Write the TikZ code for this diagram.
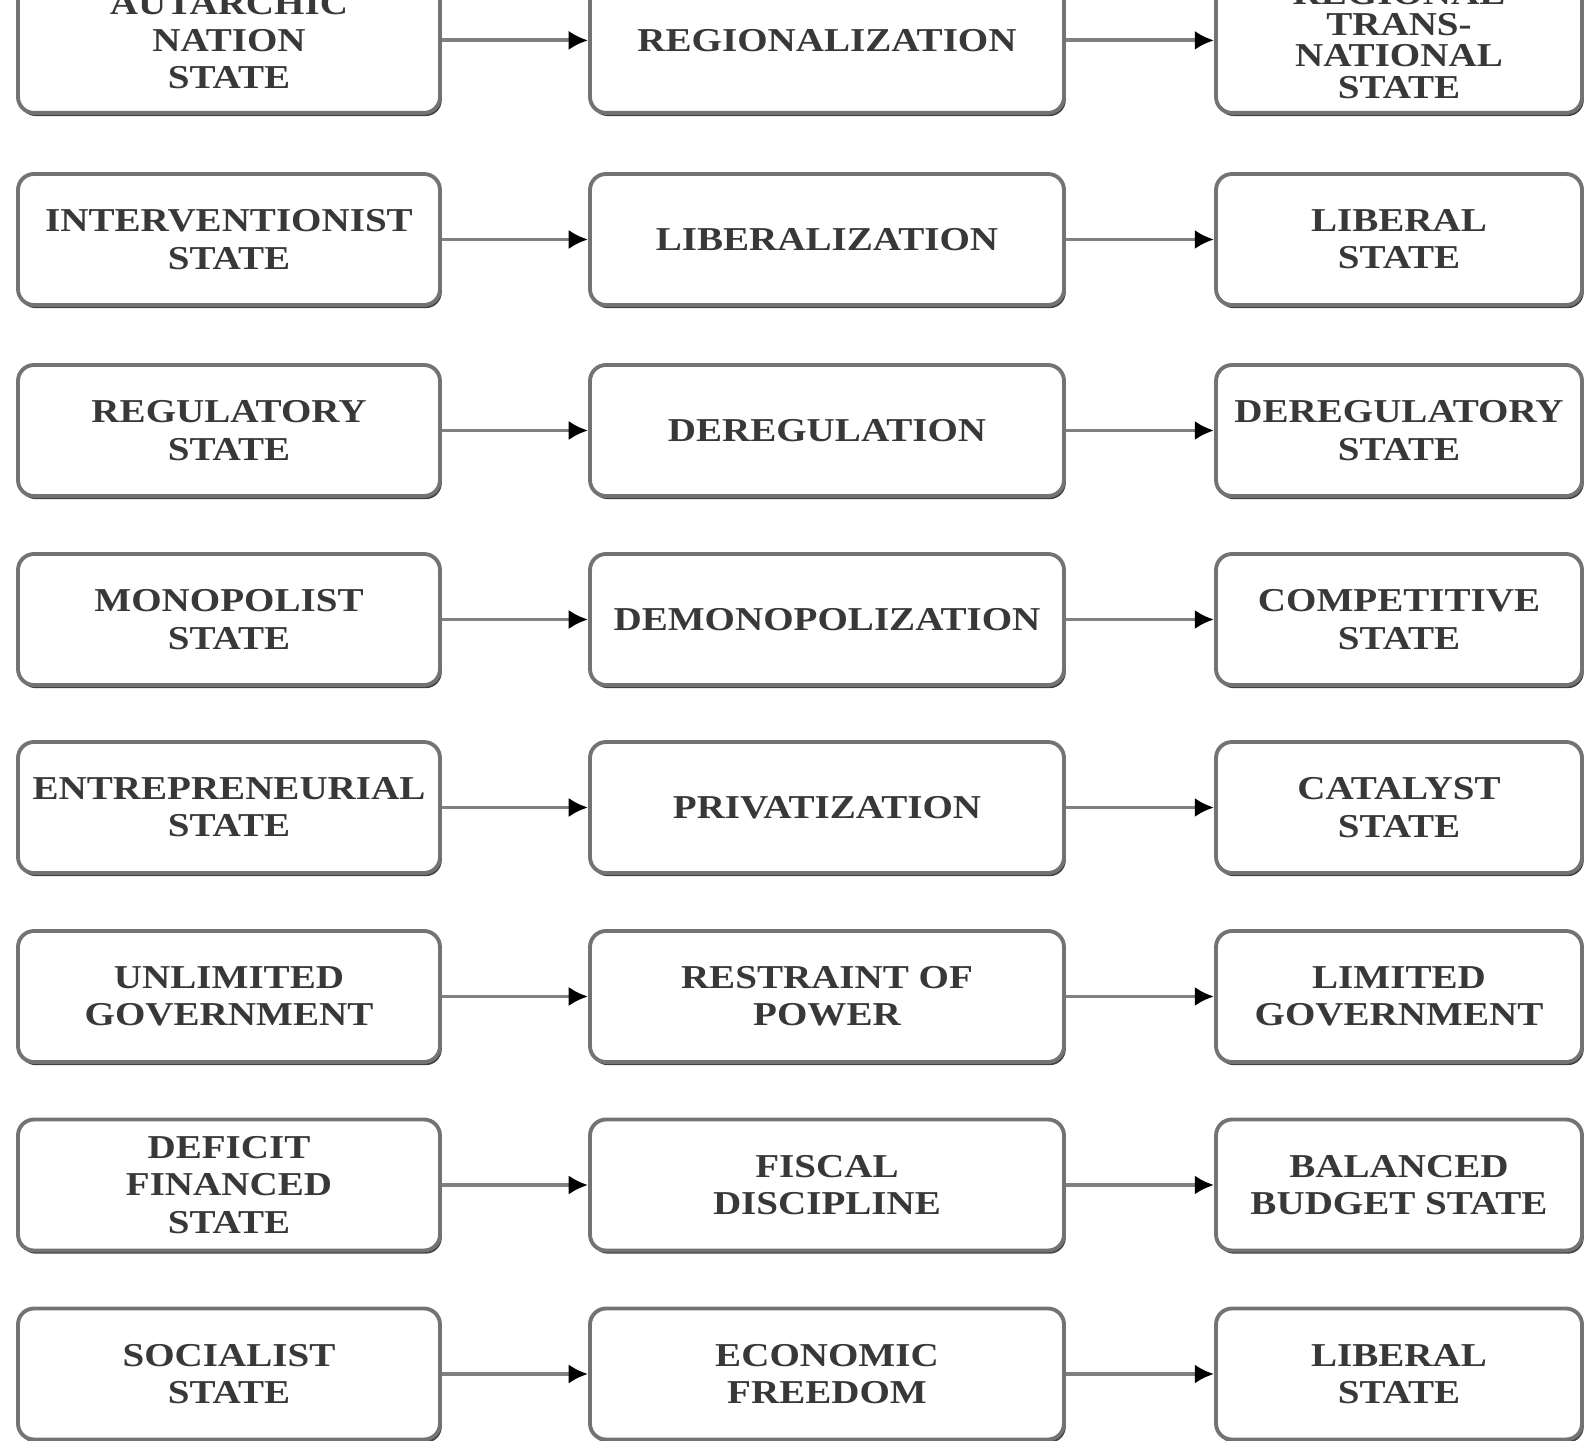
\documentclass[tikz,border=0pt]{standalone}
\usepackage{fontspec}
\setmainfont{Liberation Serif}
\newfontfamily\boxfont{Liberation Serif}[FakeStretch=1.17]
\usetikzlibrary{arrows.meta,shadows}
\tikzstyle{bx}=[shape=rectangle, rounded corners=1.6mm, draw=black!55, line width=1.1pt, fill=white, minimum height=1.31cm, align=center, text=black!78, font=\boxfont\bfseries\fontsize{9.5}{10.6}\selectfont, drop shadow={shadow xshift=.5pt, shadow yshift=-.9pt, fill=black!75, opacity=1}]
\tikzstyle{lbx}=[bx, minimum width=4.22cm]
\tikzstyle{mbx}=[bx, minimum width=4.74cm]
\tikzstyle{rbx}=[bx, minimum width=3.66cm]
\tikzstyle{tallbx}=[minimum height=1.45cm]
\tikzstyle{arr}=[draw=black!50, line width=1.1pt, -{Latex[length=5.5pt,width=5.5pt,color=black]}]

\begin{document}
\begin{tikzpicture}
\useasboundingbox (0,0) rectangle (15.85,14.40);
\clip (0,0) rectangle (15.85,14.40);
\node at (2.29,13.996) [lbx, tallbx](l1){AUTARCHIC\\NATION\\STATE};
\node at (8.27,13.996) [mbx, tallbx](m1){REGIONALIZATION};
\node at (13.99,13.996) [rbx, tallbx, inner ysep=.1cm, font=\boxfont\bfseries\fontsize{9.5}{8.9}\selectfont](r1){REGIONAL\\TRANS-\\NATIONAL\\STATE};
\node at (2.29,12.005) [lbx](l2){INTERVENTIONIST\\STATE};
\node at (8.27,12.005) [mbx](m2){LIBERALIZATION};
\node at (13.99,12.005) [rbx](r2){LIBERAL\\STATE};
\node at (2.29,10.095) [lbx](l3){REGULATORY\\STATE};
\node at (8.27,10.095) [mbx](m3){DEREGULATION};
\node at (13.99,10.095) [rbx](r3){DEREGULATORY\\STATE};
\node at (2.29,8.205) [lbx](l4){MONOPOLIST\\STATE};
\node at (8.27,8.205) [mbx](m4){DEMONOPOLIZATION};
\node at (13.99,8.205) [rbx](r4){COMPETITIVE\\STATE};
\node at (2.29,6.325) [lbx](l5){ENTREPRENEURIAL\\STATE};
\node at (8.27,6.325) [mbx](m5){PRIVATIZATION};
\node at (13.99,6.325) [rbx](r5){CATALYST\\STATE};
\node at (2.29,4.435) [lbx](l6){UNLIMITED\\GOVERNMENT};
\node at (8.27,4.435) [mbx](m6){RESTRAINT OF\\POWER};
\node at (13.99,4.435) [rbx](r6){LIMITED\\GOVERNMENT};
\node at (2.29,2.55) [lbx](l7){DEFICIT\\FINANCED\\STATE};
\node at (8.27,2.55) [mbx](m7){FISCAL\\DISCIPLINE};
\node at (13.99,2.55) [rbx](r7){BALANCED\\BUDGET STATE};
\node at (2.29,0.66) [lbx](l8){SOCIALIST\\STATE};
\node at (8.27,0.66) [mbx](m8){ECONOMIC\\FREEDOM};
\node at (13.99,0.66) [rbx](r8){LIBERAL\\STATE};
\draw[arr] (l1)--(m1); \draw[arr] (m1)--(r1);
\draw[arr] (l2)--(m2); \draw[arr] (m2)--(r2);
\draw[arr] (l3)--(m3); \draw[arr] (m3)--(r3);
\draw[arr] (l4)--(m4); \draw[arr] (m4)--(r4);
\draw[arr] (l5)--(m5); \draw[arr] (m5)--(r5);
\draw[arr] (l6)--(m6); \draw[arr] (m6)--(r6);
\draw[arr] (l7)--(m7); \draw[arr] (m7)--(r7);
\draw[arr] (l8)--(m8); \draw[arr] (m8)--(r8);
\end{tikzpicture}
\end{document}
